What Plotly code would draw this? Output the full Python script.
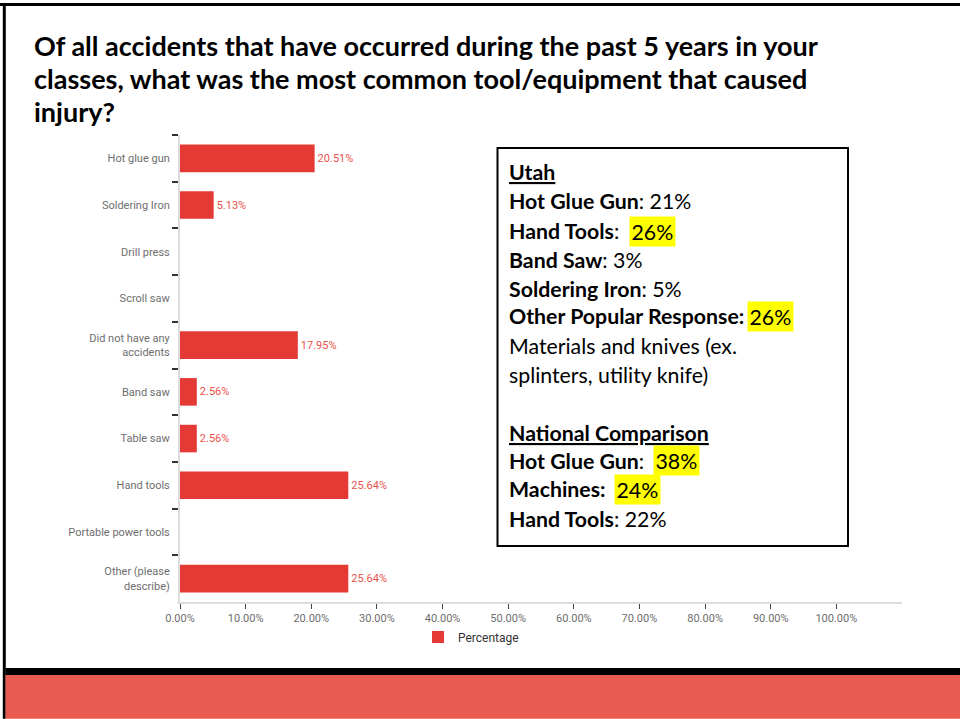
import plotly.graph_objects as go

# ---------------- data ----------------
categories = ["Hot glue gun", "Soldering Iron", "Drill press", "Scroll saw",
              "Did not have any<br>accidents", "Band saw", "Table saw",
              "Hand tools", "Portable power tools", "Other (please<br>describe)"]
percentages = [20.51, 5.13, 0, 0, 17.95, 2.56, 2.56, 25.64, 0, 25.64]
x_ticks = [0, 10, 20, 30, 40, 50, 60, 70, 80, 90, 100]
x_tick_labels = [f"{t:.2f}%" for t in x_ticks]
series_name = "Percentage"

title_lines = ["Of all accidents that have occurred during the past 5 years in your",
               "classes, what was the most common tool/equipment that caused",
               "injury?"]

utah_heading = "Utah"
utah_labels = ["Hot Glue Gun", "Hand Tools", "Band Saw", "Soldering Iron", "Other Popular Response:"]
utah_values = ["21%", "26%", "3%", "5%", "26%"]
utah_highlight = [False, True, False, False, True]
utah_note = ["Materials and knives (ex.", "splinters, utility knife)"]

nat_heading = "National Comparison"
nat_labels = ["Hot Glue Gun", "Machines:", "Hand Tools"]
nat_values = ["38%", "24%", "22%"]
nat_highlight = [True, True, False]

# ---------------- layout helpers (pixel -> paper) ----------------
W, H = 960, 719
L, R, T, B = 180, 902, 134.5, 602


def px(xp):
    return (xp - L) / (R - L)


def py(yp):
    return (B - yp) / (B - T)


BAR = "#E53935"
LABEL_RED = "#E8524A"

fig = go.Figure()
fig.add_trace(go.Bar(
    y=categories, x=percentages, orientation="h", name=series_name,
    marker=dict(color=BAR, line=dict(width=0)),
    width=0.59,
    text=[f"{v:.2f}%" if v > 0 else "" for v in percentages],
    textposition="outside", cliponaxis=False,
    textfont=dict(family="Liberation Sans Narrow, Roboto", size=11, color=LABEL_RED),
    hoverinfo="skip",
))

shapes = []
# slide border (top and left)
shapes.append(dict(type="line", xref="paper", yref="paper", x0=px(0), x1=px(960),
                   y0=py(3.8), y1=py(3.8), line=dict(color="black", width=3)))
shapes.append(dict(type="line", xref="paper", yref="paper", x0=px(4.3), x1=px(4.3),
                   y0=py(2.5), y1=py(719), line=dict(color="black", width=3)))
# bottom bands
shapes.append(dict(type="rect", xref="paper", yref="paper", x0=px(5.5), x1=px(960),
                   y0=py(668), y1=py(675), fillcolor="black", line=dict(width=0)))
shapes.append(dict(type="rect", xref="paper", yref="paper", x0=px(5.5), x1=px(960),
                   y0=py(675), y1=py(719), fillcolor="#E95B51", line=dict(width=0)))
# text box
shapes.append(dict(type="rect", xref="paper", yref="paper", x0=px(497.5), x1=px(848),
                   y0=py(147.5), y1=py(546), fillcolor="white",
                   line=dict(color="black", width=2)))

annotations = []
TFONT = "Lato, Open Sans, sans-serif"
for i, line in enumerate(title_lines):
    annotations.append(dict(xref="paper", yref="paper", x=px(32), y=py(45 + 33 * i),
                            xanchor="left", yanchor="middle", showarrow=False,
                            text=f"<b>{line}</b>",
                            font=dict(family=TFONT, size=27, color="black")))

BFONT = dict(family=TFONT, size=21.3, color="black")
x_text = 507
line_y = [171.7, 201, 230.7, 259.3, 288.3, 316, 345.5, 375]
annotations.append(dict(xref="paper", yref="paper", x=px(x_text), y=py(line_y[0]),
                        xanchor="left", yanchor="middle", showarrow=False,
                        text=f"<b><u>{utah_heading}</u></b>", font=BFONT))
hl_x_utah = {1: 629, 4: 746.5}
for i, (lab, val, hl) in enumerate(zip(utah_labels, utah_values, utah_highlight)):
    yy = py(line_y[i + 1])
    if lab.endswith(":"):
        lab_txt = f"<b>{lab}</b> "
    else:
        lab_txt = f"<b>{lab}</b>: "
    if hl:
        annotations.append(dict(xref="paper", yref="paper", x=px(x_text), y=yy,
                                xanchor="left", yanchor="middle", showarrow=False,
                                text=lab_txt, font=BFONT))
        annotations.append(dict(xref="paper", yref="paper", x=px(hl_x_utah[i]), y=yy,
                                xanchor="left", yanchor="middle", showarrow=False,
                                text=val, font=BFONT, bgcolor="#FFFF00", borderpad=1.5))
    else:
        annotations.append(dict(xref="paper", yref="paper", x=px(x_text), y=yy,
                                xanchor="left", yanchor="middle", showarrow=False,
                                text=lab_txt + val, font=BFONT))
for j, note in enumerate(utah_note):
    annotations.append(dict(xref="paper", yref="paper", x=px(x_text), y=py(line_y[6 + j]),
                            xanchor="left", yanchor="middle", showarrow=False,
                            text=note, font=BFONT))

nat_y = [433, 460.5, 489, 518.5]
annotations.append(dict(xref="paper", yref="paper", x=px(x_text), y=py(nat_y[0]),
                        xanchor="left", yanchor="middle", showarrow=False,
                        text=f"<b><u>{nat_heading}</u></b>", font=BFONT))
hl_x_nat = {0: 653, 1: 614}
for i, (lab, val, hl) in enumerate(zip(nat_labels, nat_values, nat_highlight)):
    yy = py(nat_y[i + 1])
    lab_txt = f"<b>{lab}</b> " if lab.endswith(":") else f"<b>{lab}</b>: "
    if hl:
        annotations.append(dict(xref="paper", yref="paper", x=px(x_text), y=yy,
                                xanchor="left", yanchor="middle", showarrow=False,
                                text=lab_txt, font=BFONT))
        annotations.append(dict(xref="paper", yref="paper", x=px(hl_x_nat[i]), y=yy,
                                xanchor="left", yanchor="middle", showarrow=False,
                                text=val, font=BFONT, bgcolor="#FFFF00", borderpad=1.5))
    else:
        annotations.append(dict(xref="paper", yref="paper", x=px(x_text), y=yy,
                                xanchor="left", yanchor="middle", showarrow=False,
                                text=lab_txt + val, font=BFONT))

AXFONT = dict(family="Liberation Sans Narrow, Roboto", size=11, color="#6E6E6E")
fig.update_layout(
    width=W, height=H,
    margin=dict(l=L, r=W - R, t=T, b=H - B, pad=0),
    paper_bgcolor="white", plot_bgcolor="white",
    shapes=shapes, annotations=annotations,
    showlegend=True,
    legend=dict(orientation="h", x=px(418), xanchor="left", y=py(637), yanchor="middle",
                font=dict(family="Liberation Sans Narrow, Roboto", size=12, color="#333333"),
                bgcolor="rgba(0,0,0,0)"),
    xaxis=dict(range=[0, 110], tickvals=x_ticks, ticktext=x_tick_labels,
               showgrid=False, zeroline=False, showline=True, linecolor="#DDDDDD",
               linewidth=2, ticks="outside", ticklen=5, tickcolor="#444444", tickwidth=1,
               tickfont=AXFONT, fixedrange=True),
    yaxis=dict(type="category", categoryorder="array", categoryarray=categories,
               autorange="reversed", showgrid=False, zeroline=False, showline=True,
               linecolor="#DDDDDD", linewidth=2, ticks="outside", ticklen=6,
               tickcolor="#333333", tickwidth=1.5, tickson="boundaries",
               ticklabelstandoff=6,
               tickfont=AXFONT, fixedrange=True),
)

fig.write_html("out.html", post_script="document.body.style.margin='0';",
               config={"displayModeBar": False})
